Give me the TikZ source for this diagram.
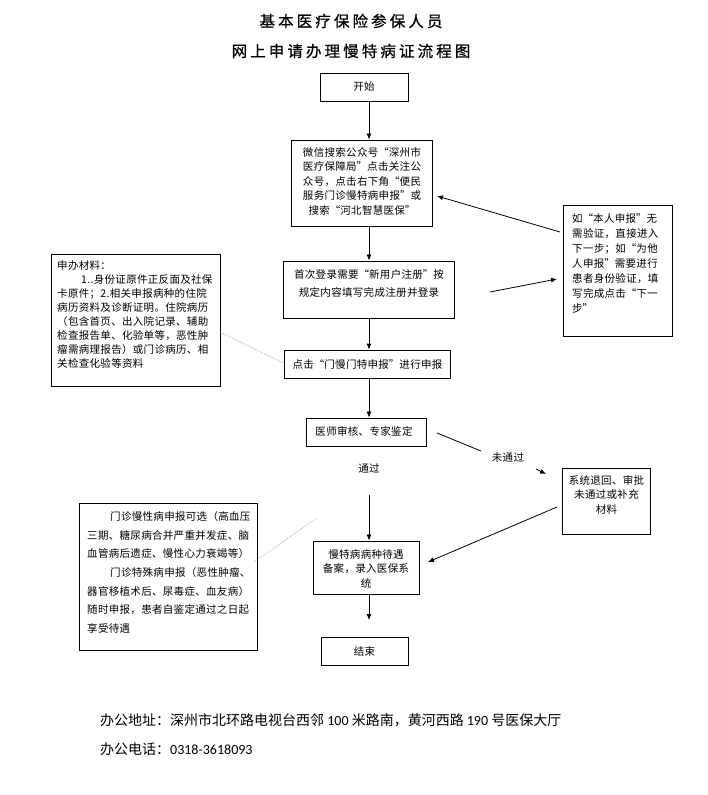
\documentclass[tikz,border=0pt]{standalone}
\usepackage{fontspec}
\newfontfamily\cjk{Noto Sans CJK SC}
\newfontfamily\cjkb[LetterSpace=3]{Noto Sans CJK SC}
\newfontfamily\cjktitle[LetterSpace=20,FakeBold=0.8]{Noto Sans CJK SC}
\newfontfamily\latn{Carlito}
\newcommand\zqo{\makebox[1em][r]{“}}
\newcommand\zqc{\makebox[1em][l]{”}}
\usetikzlibrary{arrows.meta}
\begin{document}
\begin{tikzpicture}[x=1pt,y=-1pt,
  box/.style={draw,line width=0.9pt,inner sep=0pt},
  txt/.style={inner sep=0pt,font=\cjkb\fontsize{10.5}{14.5}\selectfont},
  arr/.style={draw,line width=0.8pt,-{Latex[length=6pt,width=5pt]}},
  conn/.style={draw,line width=0.8pt},
  faint/.style={draw,gray!70,line width=0.7pt,densely dotted},
  ttl/.style={inner sep=0pt,font=\cjktitle\fontsize{15.5}{18}\selectfont},
  foot/.style={inner sep=0pt,anchor=west,font=\cjk\fontsize{14}{18}\selectfont}]
\useasboundingbox[fill=white] (0,0) rectangle (707,795);

% title
\node[ttl] (t1) at (351,21) {基本医疗保险参保人员};
\node[ttl] (t2) at (351,51) {网上申请办理慢特病证流程图};

% boxes
\node[box,minimum width=88pt,minimum height=28pt] (start) at (364,87) {};
\node[box,minimum width=141pt,minimum height=86pt] (wx) at (361.5,183) {};
\node[box,minimum width=171pt,minimum height=57pt] (reg) at (368.5,289.5) {};
\node[box,minimum width=166pt,minimum height=28pt] (apply) at (367,364) {};
\node[box,minimum width=120pt,minimum height=28pt] (review) at (366,432) {};
\node[box,minimum width=106pt,minimum height=53pt] (record) at (366,567.5) {};
\node[box,minimum width=87pt,minimum height=28pt] (end) at (364.5,651) {};
\node[box,minimum width=169pt,minimum height=132pt] (mat) at (135.5,320) {};
\node[box,minimum width=109pt,minimum height=131pt] (self) at (617.5,270.5) {};
\node[box,minimum width=88pt,minimum height=66pt] (back) at (606,501) {};
\node[box,minimum width=178pt,minimum height=147pt] (note) at (168,576.5) {};

% texts
\node[txt] (startT) at (start.center) {开始};
\node[txt,align=center] (wxT) at (362,181) {微信搜索公众号\zqo 深州市\\医疗保障局\zqc 点击关注公\\众号，点击右下角\zqo 便民\\服务门诊慢特病申报\zqc 或\\搜索\zqo 河北智慧医保\zqc};
\node[txt,align=center,font=\cjkb\fontsize{10.5}{18}\selectfont] (regT) at (369,284) {首次登录需要\zqo 新用户注册\zqc 按\\规定内容填写完成注册并登录};
\node[txt] (applyT) at (367.5,364) {点击\zqo 门慢门特申报\zqc 进行申报};
\node[txt] (reviewT) at (364,431) {医师审核、专家鉴定};
\node[txt,align=center] (recordT) at (366,568.5) {慢特病病种待遇\\备案，录入医保系\\统};
\node[txt] (endT) at (end.center) {结束};
\node[txt,align=left,anchor=west,font=\cjkb\fontsize{10.5}{13.9}\selectfont] (matT) at (57,314.5) {申办材料：\\\hspace*{24pt}1..身份证原件正反面及社保\\卡原件；2.相关申报病种的住院\\病历资料及诊断证明。住院病历\\（包含首页、出入院记录、辅助\\检查报告单、化验单等，恶性肿\\瘤需病理报告）或门诊病历、相\\关检查化验等资料};
\node[txt,align=left,anchor=west,font=\cjkb\fontsize{10.5}{15}\selectfont] (selfT) at (572,263) {如\zqo 本人申报\zqc 无\\需验证，直接进入\\下一步；如\zqo 为他\\人申报\zqc 需要进行\\患者身份验证，填\\写完成点击\zqo 下一\\步\zqc};
\node[txt,align=center] (backT) at (606.5,494.5) {系统退回、审批\\未通过或补充\\材料};
\node[txt,align=left,anchor=west,font=\cjkb\fontsize{10.5}{18.6}\selectfont] (noteT) at (87,572.5) {\hspace*{23pt}门诊慢性病申报可选（高血压\\三期、糖尿病合并严重并发症、脑\\血管病后遗症、慢性心力衰竭等）\\\hspace*{23pt}门诊特殊病申报（恶性肿瘤、\\器官移植术后、尿毒症、血友病）\\随时申报，患者自鉴定通过之日起\\享受待遇};
\node[txt] (pass) at (369,468) {通过};
\node[txt] (fail) at (508,458) {未通过};

% coordinates
\coordinate (axis) at (369,0);
\coordinate (passout) at (369,495);
\coordinate (endin) at (369,620);
\coordinate (regout) at (490,292);
\coordinate (selfin) at (557,279);
\coordinate (selfout) at (560,232);
\coordinate (wxin) at (437,196);
\coordinate (revout) at (437,433);
\coordinate (revmid) at (481,451);
\coordinate (failA) at (536,469);
\coordinate (failB) at (546,474);
\coordinate (backout) at (557,507);
\coordinate (recin) at (428,562);
\coordinate (matout) at (220,332);
\coordinate (applyin) at (283,363);
\coordinate (noteout) at (254,562);
\coordinate (noteend) at (317,518);

% connectors
\draw[arr] (start.south -| axis) -- (wx.north -| axis);
\draw[arr] (wx.south -| axis) -- (reg.north -| axis);
\draw[arr] (reg.south -| axis) -- (apply.north -| axis);
\draw[arr] (apply.south -| axis) -- (review.north -| axis);
\draw[arr] (passout) -- (record.north -| axis);
\draw[arr] (record.south -| axis) -- (endin);
\draw[arr] (regout) -- (selfin);
\draw[arr] (selfout) -- (wxin);
\draw[conn] (revout) -- (revmid);
\draw[arr] (failA) -- (failB);
\draw[arr] (backout) -- (recin);
\draw[faint] (matout) -- (applyin);
\draw[faint] (noteout) -- (noteend);

% footer
\node[foot] (addr) at (100,720) {办公地址：深州市北环路电视台西邻 {\latn 100} 米路南，黄河西路 {\latn 190} 号医保大厅};
\node[foot] (tel) at (100,749) {办公电话：{\latn 0318-3618093}};
\end{tikzpicture}
\end{document}
